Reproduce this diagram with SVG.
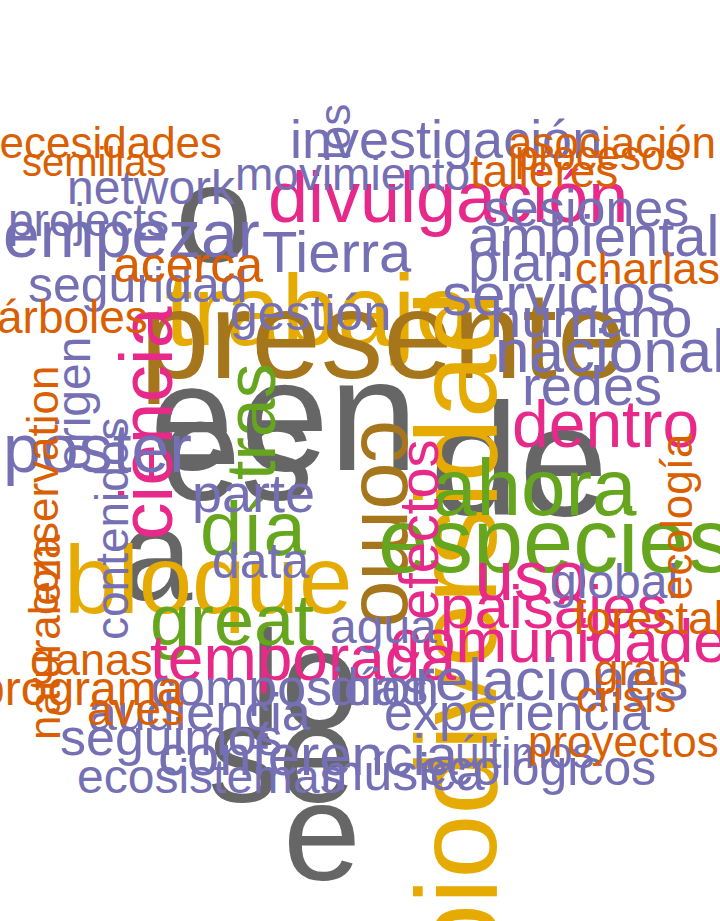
<svg xmlns="http://www.w3.org/2000/svg" width="720" height="921" viewBox="0 0 720 921">
<style>
text{font-family:"Liberation Sans",Arial,sans-serif}
.k{fill:#666666}.b{fill:#a6761d}.y{fill:#e6ab02}.g{fill:#66a61e}.p{fill:#e7298a}.v{fill:#7570b3}.o{fill:#d95f02}
</style>
<rect width="720" height="921" fill="#ffffff"/>
<g id="cloud">
<text class="k" x="175" y="262" font-size="140">o</text>
<text class="k" x="240" y="470" font-size="160">en</text>
<text class="k" x="150" y="470" font-size="150">e</text>
<text class="k" x="160" y="500" font-size="145">es</text>
<text class="k" x="430" y="515" font-size="160">de</text>
<text class="k" x="120" y="600" font-size="130">a</text>
<text class="k" x="250" y="728" font-size="140">lo</text>
<text class="k" x="208" y="802" font-size="140">se</text>
<text class="k" x="283" y="880" font-size="140">e</text>
<text class="y" x="165" y="345" font-size="100">trabajo</text>
<text class="b" x="140" y="378" font-size="125">presente</text>
<text class="b" transform="translate(362,420) rotate(90)" font-size="85">como</text>
<text class="y" transform="translate(496,968) rotate(-90)" font-size="115">biodiversidad</text>
<text class="y" x="64" y="613" font-size="96">bloque</text>
<text class="g" transform="translate(275,480) rotate(-90)" font-size="70">tras</text>
<text class="g" x="200" y="555" font-size="76">día</text>
<text class="g" x="150" y="645" font-size="72">great</text>
<text class="g" x="432" y="515" font-size="80">ahora</text>
<text class="g" x="378" y="572" font-size="90">especies</text>
<text class="p" x="268" y="222" font-size="72">divulgación</text>
<text class="p" transform="translate(172,540) rotate(-90)" font-size="75">ciencia</text>
<text class="p" transform="translate(438,620) rotate(-90)" font-size="56">efectos</text>
<text class="p" x="512" y="447" font-size="66">dentro</text>
<text class="p" x="475" y="600" font-size="70">uso</text>
<text class="p" x="440" y="628" font-size="62">paisajes</text>
<text class="p" x="390" y="662" font-size="62">comunidades</text>
<text class="p" x="150" y="680" font-size="64">temporada</text>
<text class="v" transform="translate(350,160) rotate(-90)" font-size="44">los</text>
<text class="v" x="290" y="158" font-size="54">investigación</text>
<text class="v" x="235" y="190" font-size="46">movimiento</text>
<text class="v" x="67" y="204" font-size="48">network</text>
<text class="v" x="8" y="236" font-size="46">projects</text>
<text class="v" x="3" y="257" font-size="66">empezar</text>
<text class="v" x="484" y="226" font-size="52">sesiones</text>
<text class="v" x="468" y="256" font-size="58">ambiental</text>
<text class="v" x="468" y="281" font-size="56">plan</text>
<text class="v" x="262" y="272" font-size="58">Tierra</text>
<text class="v" x="28" y="302" font-size="50">seguridad</text>
<text class="v" x="230" y="330" font-size="50">gestión</text>
<text class="v" x="442" y="315" font-size="60">servicios</text>
<text class="v" x="490" y="337" font-size="56">humano</text>
<text class="v" x="495" y="372" font-size="62">nacional</text>
<text class="v" x="522" y="405" font-size="56">redes</text>
<text class="v" transform="translate(90,470) rotate(-90)" font-size="48">origen</text>
<text class="v" transform="translate(128,640) rotate(-90)" font-size="46">contenidos</text>
<text class="v" x="3" y="472" font-size="68">poster</text>
<text class="v" x="192" y="512" font-size="54">parte</text>
<text class="v" x="212" y="578" font-size="50">data</text>
<text class="v" x="330" y="643" font-size="48">agua</text>
<text class="v" x="550" y="598" font-size="48">global</text>
<text class="v" x="415" y="700" font-size="60">relaciones</text>
<text class="v" x="150" y="705" font-size="52">composición</text>
<text class="v" x="330" y="705" font-size="52">días</text>
<text class="v" x="88" y="730" font-size="52">audiencia</text>
<text class="v" x="384" y="730" font-size="52">experiencia</text>
<text class="v" x="60" y="755" font-size="52">seguimos</text>
<text class="v" x="455" y="768" font-size="44">últimos</text>
<text class="v" x="158" y="775" font-size="58">conferencia</text>
<text class="v" x="77" y="793" font-size="48">ecosistemas</text>
<text class="v" x="320" y="790" font-size="52">música</text>
<text class="v" x="420" y="785" font-size="50">ecológicos</text>
<text class="o" x="-25" y="158" font-size="44">necesidades</text>
<text class="o" x="508" y="158" font-size="44">asociación</text>
<text class="o" x="515" y="170" font-size="42">procesos</text>
<text class="o" x="22" y="176" font-size="40">semillas</text>
<text class="o" x="470" y="187" font-size="46">talleres</text>
<text class="o" x="113" y="282" font-size="50">acerca</text>
<text class="o" x="575" y="284" font-size="45">charlas</text>
<text class="o" x="-3" y="333" font-size="46">árboles</text>
<text class="o" transform="translate(58,615) rotate(-90)" font-size="44">conservation</text>
<text class="o" transform="translate(60,740) rotate(-90)" font-size="44">naturaleza</text>
<text class="o" transform="translate(692,600) rotate(-90)" font-size="44">ecología</text>
<text class="o" x="573" y="634" font-size="46">forestal</text>
<text class="o" x="30" y="675" font-size="45">ganas</text>
<text class="o" x="594" y="685" font-size="44">gran</text>
<text class="o" x="-22" y="705" font-size="48">programa</text>
<text class="o" x="576" y="712" font-size="44">crisis</text>
<text class="o" x="87" y="725" font-size="46">aves</text>
<text class="o" x="528" y="757" font-size="44">proyectos</text>
</g>
</svg>
